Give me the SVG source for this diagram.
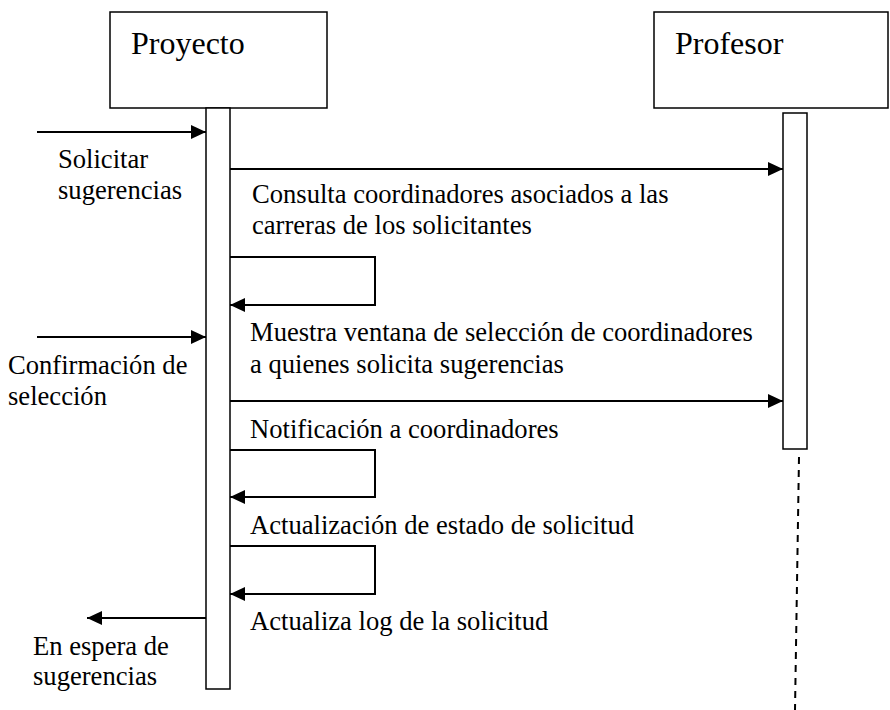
<svg xmlns="http://www.w3.org/2000/svg" width="890" height="710" viewBox="0 0 890 710">
<style>
.box{fill:#fff;stroke:#000;stroke-width:1.5}
.bar{fill:#fff;stroke:#000;stroke-width:1.5}
.msg{fill:none;stroke:#000;stroke-width:2}
.life{fill:none;stroke:#000;stroke-width:2;stroke-dasharray:7 6}
.t{font-family:"Liberation Serif","Times New Roman",serif;font-size:26.6px;fill:#000}
.title{font-family:"Liberation Serif","Times New Roman",serif;font-size:32px;fill:#000}
</style>
<defs>
<marker id="ah" markerUnits="userSpaceOnUse" markerWidth="15" markerHeight="14" refX="15" refY="7" orient="auto">
<path d="M0,0 L15,7 L0,14 z" fill="#000"/>
</marker>
</defs>
<rect width="890" height="710" fill="#fff"/>
<g id="proyecto">
<rect class="box" x="110" y="12" width="217" height="96"/>
<text class="title" x="131" y="54">Proyecto</text>
<rect class="bar" x="206" y="108" width="24" height="581"/>
</g>
<g id="profesor">
<rect class="box" x="654" y="12" width="234" height="96"/>
<text class="title" x="675" y="54">Profesor</text>
<rect class="bar" x="783" y="113" width="24" height="336"/>
<line class="life" x1="799" y1="457" x2="795" y2="710"/>
</g>
<g id="connectors">
<line class="msg" x1="37" y1="132" x2="206" y2="132" marker-end="url(#ah)"/>
<line class="msg" x1="230" y1="169" x2="783" y2="169" marker-end="url(#ah)"/>
<polyline class="msg" points="230,257 375,257 375,305 230,305" marker-end="url(#ah)"/>
<line class="msg" x1="37" y1="337" x2="206" y2="337" marker-end="url(#ah)"/>
<line class="msg" x1="230" y1="401" x2="783" y2="401" marker-end="url(#ah)"/>
<polyline class="msg" points="230,450 375,450 375,497 230,497" marker-end="url(#ah)"/>
<polyline class="msg" points="230,546 375,546 375,594 230,594" marker-end="url(#ah)"/>
<line class="msg" x1="206" y1="618" x2="87" y2="618" marker-end="url(#ah)"/>
</g>
<g id="labels">
<text class="t" x="58" y="168">Solicitar</text>
<text class="t" x="58" y="199">sugerencias</text>
<text class="t" x="252" y="203">Consulta coordinadores asociados a las</text>
<text class="t" x="252" y="234">carreras de los solicitantes</text>
<text class="t" x="250" y="341">Muestra ventana de selección de coordinadores</text>
<text class="t" x="250" y="373">a quienes solicita sugerencias</text>
<text class="t" x="8" y="374">Confirmación de</text>
<text class="t" x="8" y="405">selección</text>
<text class="t" x="250" y="438">Notificación a coordinadores</text>
<text class="t" x="250" y="534">Actualización de estado de solicitud</text>
<text class="t" x="250" y="630">Actualiza log de la solicitud</text>
<text class="t" x="33" y="655">En espera de</text>
<text class="t" x="33" y="685">sugerencias</text>
</g>
</svg>
